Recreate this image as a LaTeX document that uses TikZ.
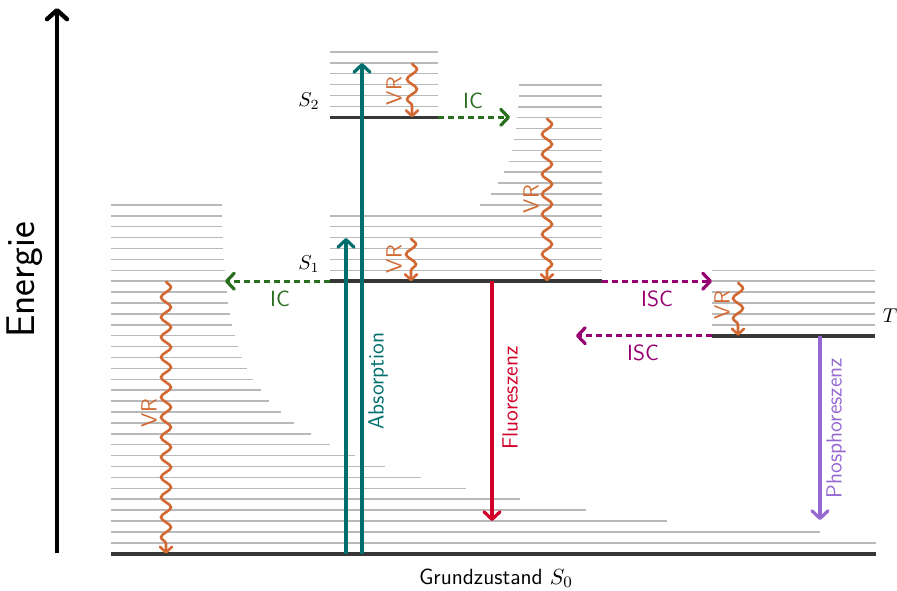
\documentclass[tikz,border=0pt]{standalone}
\usepackage{fontspec}
\usetikzlibrary{arrows.meta,decorations.pathmorphing}
\definecolor{vibgray}{RGB}{185,185,185}
\definecolor{stategray}{RGB}{55,55,55}
\definecolor{absteal}{RGB}{0,110,108}
\definecolor{icgreen}{RGB}{40,110,30}
\definecolor{vrorange}{RGB}{210,105,50}
\definecolor{iscpurple}{RGB}{150,0,112}
\definecolor{flred}{RGB}{210,0,40}
\definecolor{phpurple}{RGB}{150,105,210}
\tikzset{
  vib/.style={draw=vibgray, line width=0.75pt},
  statelvl/.style={draw=stategray, line width=1.8pt},
  tiparrow/.style={-{Straight Barb[length=3.8pt,width=8pt,round]}},
  radarrow/.style={tiparrow, line width=1.6pt},
  nonrad/.style={tiparrow, line width=1.6pt, dash pattern=on 3pt off 2pt},
  vrarrow/.style={draw=vrorange, line width=1.3pt,
    -{Straight Barb[length=2.8pt,width=6pt,round]},
    decorate, decoration={snake, amplitude=2.5pt, segment length=10pt, post length=3pt}},
  lbl/.style={font=\sffamily\fontsize{11}{13}\selectfont, inner sep=1pt},
}
\begin{document}
\begin{tikzpicture}[x=0.5pt,y=-0.5pt]
\useasboundingbox (0,0) rectangle (897,590);
% energy axis
\coordinate (E0) at (57,553);
\coordinate (E1) at (57,8);
\draw[line width=2.2pt, -{Straight Barb[length=4.5pt,width=10pt,round]}] (E0) -- (E1);
\node[font=\sffamily\fontsize{20}{22}\selectfont, rotate=90] (energie) at (25,280) {Energie};
% vibrational levels S0
\foreach \r [count=\k] in {876,820,667,586,520,466,421,385,355,330,310.7,294,280.7,269.3,260.7,253.3,247,242.3,238,235,232.3,230,228.3,226.7,225,224.7,224,223.3,222.7,222.3,221.7,221.7}
  \draw[vib] (111,{553.7-10.9*\k}) -- (\r,{553.7-10.9*\k});
% vibrational levels S1
\foreach \l [count=\j] in {330,330,330,330,330,330,480,490.7,498.3,504,509,511.7,514.3,515.7,517.3,518.3,519.3,519.3}
  \draw[vib] (\l,{281.2-10.9*\j}) -- (602,{281.2-10.9*\j});
% vibrational levels S2
\foreach \j in {1,...,6}
  \draw[vib] (330,{117.3-10.9*\j}) -- (438,{117.3-10.9*\j});
% vibrational levels T
\foreach \j in {1,...,6}
  \draw[vib] (712,{335.7-10.9*\j}) -- (875,{335.7-10.9*\j});
% electronic states
\coordinate (S0l) at (111,553.7); \coordinate (S0r) at (876,553.7);
\coordinate (S1l) at (330,281.2); \coordinate (S1r) at (602,281.2);
\coordinate (S2l) at (330,117.3); \coordinate (S2r) at (438,117.3);
\coordinate (Tl) at (712,335.7);  \coordinate (Tr) at (875,335.7);
\draw[statelvl] (S0l) -- (S0r);
\draw[statelvl] (S1l) -- (S1r);
\draw[statelvl] (S2l) -- (S2r);
\draw[statelvl] (Tl) -- (Tr);
% state labels
\node (lS2) at (309,101) {$S_2$};
\node (lS1) at (309,264) {$S_1$};
\node (lT) at (890,316) {$T$};
\node[lbl] (lS0) at (496,578) {Grundzustand $S_0$};
% absorption
\coordinate (a1s) at (346,553.7); \coordinate (a1e) at (346,238);
\coordinate (a2s) at (362,553.7); \coordinate (a2e) at (362,63);
\draw[radarrow, absteal] (a1s) -- (a1e);
\draw[radarrow, absteal] (a2s) -- (a2e);
\node[lbl, absteal, rotate=90] (labs) at (378,381) {Absorption};
% fluorescence
\coordinate (fs) at (492,281.2); \coordinate (fe) at (492,521);
\draw[radarrow, flred] (fs) -- (fe);
\node[lbl, flred, rotate=90] (lfl) at (510,398) {Fluoreszenz};
% phosphorescence
\coordinate (ps) at (820,335.7); \coordinate (pe) at (820,520);
\draw[radarrow, phpurple] (ps) -- (pe);
\node[lbl, phpurple, rotate=90] (lph) at (836,428) {Phosphoreszenz};
% internal conversion
\coordinate (ic1e) at (225,281.2);
\draw[nonrad, icgreen] (S1l) -- (ic1e);
\node[lbl, icgreen] (lic1) at (280,299) {IC};
\coordinate (ic2e) at (510,117.3);
\draw[nonrad, icgreen] (S2r) -- (ic2e);
\node[lbl, icgreen] (lic2) at (473,101) {IC};
% intersystem crossing
\coordinate (isc1e) at (712,281.2);
\draw[nonrad, iscpurple] (S1r) -- (isc1e);
\node[lbl, iscpurple] (lisc1) at (657,299) {ISC};
\coordinate (isc2e) at (576,335.7);
\draw[nonrad, iscpurple] (Tl) -- (isc2e);
\node[lbl, iscpurple] (lisc2) at (643,353) {ISC};
% vibrational relaxation
\coordinate (v1s) at (412,63);  \coordinate (v1e) at (412,117.3);
\coordinate (v2s) at (411,238); \coordinate (v2e) at (411,281.2);
\coordinate (v3s) at (547,118); \coordinate (v3e) at (547,281.2);
\coordinate (v4s) at (166,281); \coordinate (v4e) at (166,553.7);
\coordinate (v5s) at (738,282); \coordinate (v5e) at (738,335.7);
\draw[vrarrow] (v1s) -- (v1e);
\draw[vrarrow] (v2s) -- (v2e);
\draw[vrarrow] (v3s) -- (v3e);
\draw[vrarrow] (v4s) -- (v4e);
\draw[vrarrow] (v5s) -- (v5e);
\node[lbl, vrorange, rotate=90] (lvr1) at (394,91) {VR};
\node[lbl, vrorange, rotate=90] (lvr2) at (394,259) {VR};
\node[lbl, vrorange, rotate=90] (lvr3) at (531,199) {VR};
\node[lbl, vrorange, rotate=90] (lvr4) at (149,413) {VR};
\node[lbl, vrorange, rotate=90] (lvr5) at (722,305) {VR};
\end{tikzpicture}
\end{document}
